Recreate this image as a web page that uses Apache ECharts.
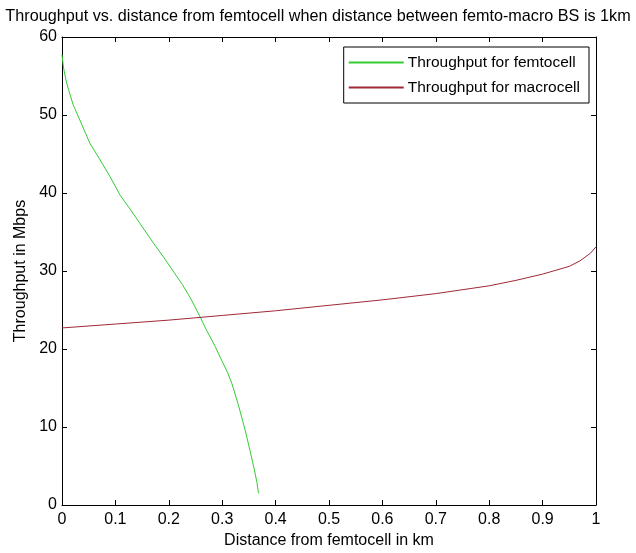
<!DOCTYPE html>
<html>
<head>
<meta charset="utf-8">
<script src="https://cdn.jsdelivr.net/npm/echarts@6/dist/echarts.min.js"></script>
<style>
html,body{margin:0;padding:0;background:#fff;}
#chart{width:636px;height:553px;}
</style>
</head>
<body>
<div id="chart"></div>
<script>
const titleText = 'Throughput vs. distance from femtocell when distance between femto-macro BS is 1km';
const xAxisName = 'Distance from femtocell in km';
const yAxisName = 'Throughput in Mbps';
const xTickLabels = ['0','0.1','0.2','0.3','0.4','0.5','0.6','0.7','0.8','0.9','1'];
const yTickLabels = ['0','10','20','30','40','50','60'];
const seriesNames = ['Throughput for femtocell', 'Throughput for macrocell'];

const femtoX = [0, 0.003, 0.007, 0.012, 0.021, 0.035, 0.052, 0.07, 0.09, 0.109, 0.13, 0.146, 0.17, 0.19, 0.21, 0.225, 0.24, 0.258, 0.27, 0.287, 0.30, 0.31, 0.318, 0.33, 0.343, 0.352, 0.36, 0.365, 0.368];
const femtoY = [57.7, 56.0, 54.6, 53.3, 51.3, 49.1, 46.4, 44.4, 42.1, 39.7, 37.7, 36.1, 33.7, 31.8, 29.8, 28.3, 26.6, 24.2, 22.5, 20.3, 18.4, 17.0, 15.6, 12.9, 9.6, 7.0, 4.6, 2.9, 1.5];

const macroX = [0, 0.1, 0.2, 0.3, 0.4, 0.5, 0.6, 0.7, 0.8, 0.85, 0.9, 0.95, 0.97, 0.99, 1.0];
const macroY = [22.7, 23.2, 23.7, 24.3, 24.9, 25.6, 26.3, 27.1, 28.1, 28.8, 29.6, 30.6, 31.3, 32.3, 33.1];

const FONT = "'Liberation Sans', Arial, sans-serif";
const chart = echarts.init(document.getElementById('chart'), null, {renderer: 'canvas'});

const axisCommon = {
  axisLine: {show: true, onZero: false, lineStyle: {color: '#000', width: 1}},
  axisTick: {show: true, inside: true, length: 5, lineStyle: {color: '#000'}},
  splitLine: {show: false}
};

const option = {
  backgroundColor: '#fff',
  animation: false,
  title: {
    text: titleText,
    left: 'center',
    top: 4,
    textStyle: {fontFamily: FONT, fontSize: 16.2, fontWeight: 'normal', color: '#000'}
  },
  legend: {
    data: seriesNames,
    orient: 'vertical',
    right: 47,
    top: 47,
    backgroundColor: '#fff',
    borderColor: '#000',
    borderWidth: 1,
    borderRadius: 0,
    padding: [3, 9, 3, 5],
    itemGap: 0,
    itemWidth: 55,
    itemHeight: 2,
    icon: 'rect',
    textStyle: {fontFamily: FONT, fontSize: 15.5, lineHeight: 25, color: '#000', padding: [0, 0, 0, -1]}
  },
  grid: {left: 62, right: 40, top: 37, bottom: 48, containLabel: false, outerBoundsMode: 'none'},
  xAxis: [
    Object.assign({
      type: 'value', min: 0, max: 1, interval: 0.1, position: 'bottom',
      name: xAxisName, nameLocation: 'middle', nameGap: 27,
      nameTextStyle: {fontFamily: FONT, fontSize: 16, color: '#000'},
      axisLabel: {fontFamily: FONT, fontSize: 16, color: '#000', margin: 7,
        formatter: (v) => xTickLabels[Math.round(v * 10)]}
    }, axisCommon),
    Object.assign({
      type: 'value', min: 0, max: 1, interval: 0.1, position: 'top',
      axisLabel: {show: false}
    }, axisCommon)
  ],
  yAxis: [
    Object.assign({
      type: 'value', min: 0, max: 60, interval: 10, position: 'left',
      name: yAxisName, nameLocation: 'middle', nameGap: 33, nameRotate: 90,
      nameTextStyle: {fontFamily: FONT, fontSize: 16, color: '#000'},
      axisLabel: {fontFamily: FONT, fontSize: 16, color: '#000', margin: 5,
        formatter: (v) => yTickLabels[Math.round(v / 10)]}
    }, axisCommon),
    Object.assign({
      type: 'value', min: 0, max: 60, interval: 10, position: 'right',
      axisLabel: {show: false}
    }, axisCommon)
  ],
  series: [
    {
      name: seriesNames[0], type: 'line', xAxisIndex: 0, yAxisIndex: 0,
      data: femtoX.map((x, i) => [x, femtoY[i]]),
      showSymbol: false, smooth: false,
      color: '#33cc33', lineStyle: {width: 1, color: '#33cc33'}
    },
    {
      name: seriesNames[1], type: 'line', xAxisIndex: 0, yAxisIndex: 0,
      data: macroX.map((x, i) => [x, macroY[i]]),
      showSymbol: false, smooth: false,
      color: '#a02838', lineStyle: {width: 1, color: '#a02838'}
    }
  ]
};
chart.setOption(option);
</script>
</body>
</html>
